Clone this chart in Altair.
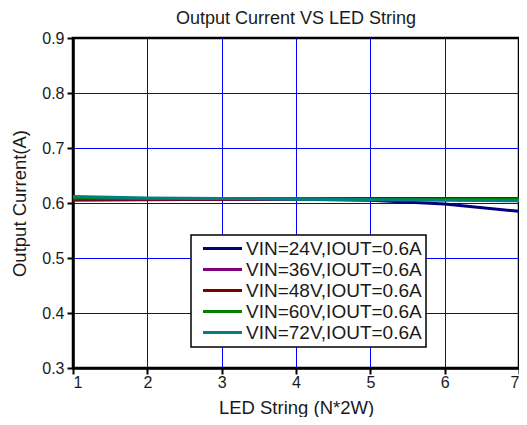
import altair as alt
import pandas as pd

strings = [1, 2, 3, 4, 5, 6, 7]
y_ticks = [0.3, 0.4, 0.5, 0.6, 0.7, 0.8, 0.9]
series_names = [
    "VIN=24V,IOUT=0.6A",
    "VIN=36V,IOUT=0.6A",
    "VIN=48V,IOUT=0.6A",
    "VIN=60V,IOUT=0.6A",
    "VIN=72V,IOUT=0.6A",
]
vin24 = [0.607, 0.607, 0.607, 0.607, 0.605, 0.598, 0.585]
vin36 = [0.605, 0.606, 0.607, 0.607, 0.607, 0.607, 0.607]
vin48 = [0.607, 0.607, 0.607, 0.608, 0.608, 0.608, 0.608]
vin60 = [0.609, 0.608, 0.608, 0.608, 0.607, 0.607, 0.607]
vin72 = [0.612, 0.609, 0.608, 0.607, 0.606, 0.605, 0.604]
colors = ["#000080", "#800080", "#800000", "#008000", "#008080"]

rows = []
for name, vals in zip(series_names, [vin24, vin36, vin48, vin60, vin72]):
    for x, v in zip(strings, vals):
        rows.append({"n": x, "current": v, "series": name})
df = pd.DataFrame(rows)

FONT = "Liberation Sans"
TXT = "#1a1a1a"

chart = alt.Chart(df).mark_line(strokeWidth=3).encode(
    x=alt.X("n:Q", title="LED String (N*2W)",
            scale=alt.Scale(domain=[1, 7], nice=False),
            axis=alt.Axis(values=strings, format="d", labelPadding=0,
                          titlePadding=8,
                          gridOpacity={"condition": {"test": "datum.value >= 7 || datum.value <= 1", "value": 0}, "value": 1})),
    y=alt.Y("current:Q", title="Output Current(A)",
            scale=alt.Scale(domain=[0.3, 0.9], nice=False),
            axis=alt.Axis(values=y_ticks, format=".1f", labelPadding=3,
                          titlePadding=12,
                          gridOpacity={"condition": {"test": "datum.value >= 0.89 || datum.value <= 0.31", "value": 0}, "value": 1})),
    color=alt.Color("series:N", title=None,
                    scale=alt.Scale(domain=series_names, range=colors),
                    legend=alt.Legend(orient="none", legendX=118, legendY=197,
                                      symbolType="M-4,0H4", symbolStrokeWidth=3,
                                      symbolSize=95, symbolOffset=18,
                                      labelOffset=14, labelFontSize=19,
                                      labelFont=FONT, labelColor=TXT,
                                      strokeColor="black", fillColor="white",
                                      padding=4, rowPadding=1, labelLimit=400)),
    order="series:N",
).properties(
    width=446, height=330,
    title=alt.Title("Output Current VS LED String", fontSize=18,
                    font=FONT, fontWeight="normal", color=TXT,
                    offset=2),
    autosize=alt.AutoSizeParams(type="none"),
    padding={"left": 65, "top": 30, "right": 0, "bottom": 49},
).configure_axis(
    gridColor="#0000ff", gridWidth=1,
    domainColor="black", domainWidth=2.5,
    tickColor="black", tickWidth=2, tickSize=6,
    labelFont=FONT, labelFontSize=16, labelColor=TXT,
    titleFont=FONT, titleFontSize=18.5, titleFontWeight="normal",
    titleColor=TXT,
).configure_legend(strokeWidth=1.5
).configure_view(stroke="black", strokeWidth=2.5)

chart.save("out.html", embed_options={"renderer": "svg", "actions": False})
